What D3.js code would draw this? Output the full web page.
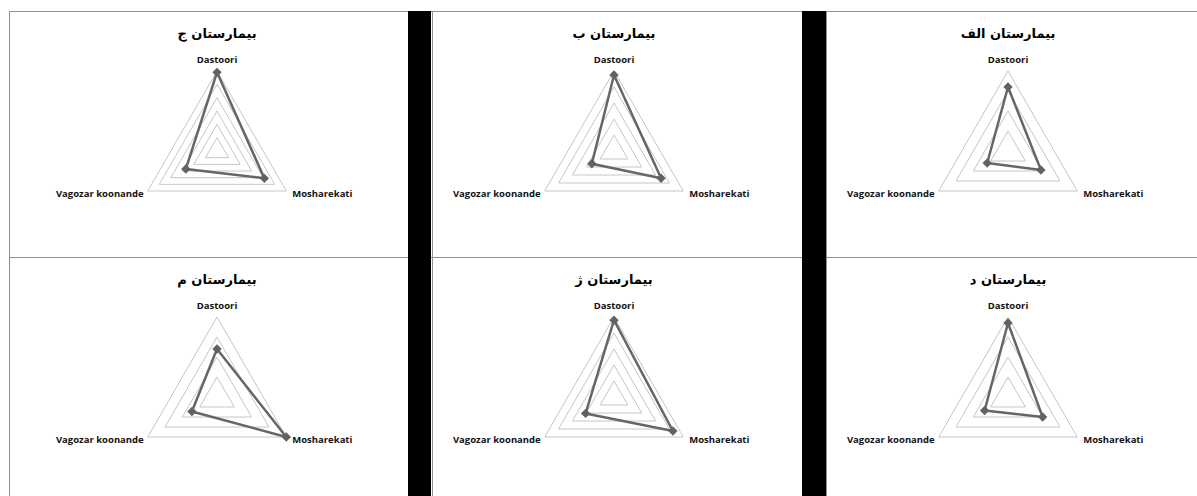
<!DOCTYPE html>
<html>
<head>
<meta charset="utf-8">
<script src="https://cdn.jsdelivr.net/npm/d3@7"></script>
<style>
  body { margin: 0; background: #fff; }
  svg { display: block; }
</style>
</head>
<body>
<script>
// hospitals, in the order the panels are laid out (right-to-left reading, but drawn left to right)
const hospitals = ["بیمارستان ج", "بیمارستان ب", "بیمارستان الف", "بیمارستان م", "بیمارستان ژ", "بیمارستان د"];
const categories = ["Dastoori", "Mosharekati", "Vagozar koonande"];

// values, one per hospital
const dastoori = [5.9, 4.75, 3.2, 2.4, 4.8, 3.7];
const mosharekati = [4.1, 3.4, 1.9, 4.0, 4.25, 2.0];
const vagozar = [2.7, 1.6, 1.2, 1.45, 2.05, 1.35];
// radial axis maximum of each panel (gridlines every 1)
const axisMax = [6, 5, 4, 4, 5, 4];

const width = 1197;
const height = 496;

const svg = d3.select("body")
    .append("svg")
    .attr("width", width)
    .attr("height", height);

svg.append("rect").attr("width", width).attr("height", height).attr("fill", "#fff");

// cell frames
const frame = svg.append("g").attr("stroke", "#8f8f8f").attr("stroke-width", 1);
frame.append("line").attr("x1", 9).attr("x2", width).attr("y1", 11.5).attr("y2", 11.5);
frame.append("line").attr("x1", 9).attr("x2", width).attr("y1", 257.5).attr("y2", 257.5);
[9.5, 432.5, 826.5].forEach(x => {
    frame.append("line").attr("x1", x).attr("x2", x).attr("y1", 11).attr("y2", height);
});

// black separators between the columns
svg.selectAll(".sep")
    .data([[408, 23], [802, 24]])
    .join("rect")
    .attr("class", "sep")
    .attr("x", d => d[0])
    .attr("y", 11)
    .attr("width", d => d[1])
    .attr("height", height - 11)
    .attr("fill", "#000");

const centersX = [217, 614, 1008];
const centersY = [151, 397];
const R = 80;
const angles = [0, 2 * Math.PI / 3, 4 * Math.PI / 3];

hospitals.forEach((name, i) => {
    const cx = centersX[i % 3];
    const cy = centersY[Math.floor(i / 3)];
    const r = d3.scaleLinear().domain([0, axisMax[i]]).range([0, R]);
    const g = svg.append("g").attr("transform", `translate(${cx},${cy})`);

    const radial = d3.lineRadial()
        .angle((d, k) => angles[k])
        .radius(d => r(d))
        .curve(d3.curveLinearClosed);

    // grid triangles
    g.selectAll(".grid")
        .data(d3.range(1, axisMax[i] + 1))
        .join("path")
        .attr("class", "grid")
        .attr("d", v => radial([v, v, v]))
        .attr("fill", "none")
        .attr("stroke", "#c6c6c6")
        .attr("stroke-width", 1);

    const vals = [dastoori[i], mosharekati[i], vagozar[i]];

    g.append("path")
        .attr("d", radial(vals))
        .attr("fill", "none")
        .attr("stroke", "#666")
        .attr("stroke-width", 2.5)
        .attr("stroke-linejoin", "round");

    const pt = (v, k) => [Math.sin(angles[k]) * r(v), -Math.cos(angles[k]) * r(v)];

    g.selectAll(".marker")
        .data(vals)
        .join("path")
        .attr("class", "marker")
        .attr("d", d3.symbol(d3.symbolSquare, 44))
        .attr("transform", (v, k) => `translate(${pt(v, k)}) rotate(45)`)
        .attr("fill", "#626262");

    // category labels
    const lab = g.append("g")
        .attr("font-family", "'Open Sans', sans-serif")
        .attr("font-weight", "bold")
        .attr("font-size", 9.5)
        .attr("fill", "#111");
    lab.append("text").attr("x", 0).attr("y", -R - 8).attr("text-anchor", "middle").text(categories[0]);
    lab.append("text").attr("x", R * 0.866 + 6).attr("y", R / 2 + 6).attr("text-anchor", "start").text(categories[1]);
    lab.append("text").attr("x", -R * 0.866 - 4).attr("y", R / 2 + 6).attr("text-anchor", "end").text(categories[2]);

    // title
    g.append("text")
        .attr("x", 0)
        .attr("y", -113)
        .attr("text-anchor", "middle")
        .attr("direction", "rtl")
        .attr("font-family", "'DejaVu Sans', sans-serif")
        .attr("font-weight", "bold")
        .attr("font-size", 13)
        .attr("fill", "#000")
        .text(name);
});
</script>
</body>
</html>
